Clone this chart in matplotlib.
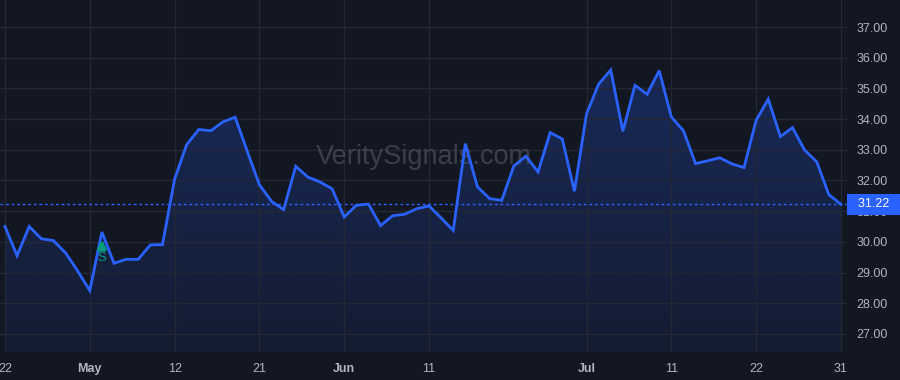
import matplotlib
matplotlib.use('Agg')
import matplotlib.pyplot as plt
import matplotlib.transforms as mtransforms
from matplotlib.patches import Polygon
import numpy as np

# closing prices, one per trading day (Apr 22 -> Jul 31)
prices = [30.50, 29.55, 30.50, 30.10, 30.04, 29.64, 29.05, 28.41, 30.32, 29.30,
          29.43, 29.43, 29.90, 29.91, 32.04, 33.17, 33.66, 33.62, 33.91, 34.06,
          32.95, 31.86, 31.32, 31.05, 32.46, 32.11, 31.95, 31.73, 30.81, 31.19,
          31.23, 30.53, 30.85, 30.90, 31.08, 31.17, 30.78, 30.37, 33.20, 31.79,
          31.41, 31.35, 32.47, 32.79, 32.28, 33.56, 33.35, 31.65, 34.17, 35.14,
          35.60, 33.60, 35.10, 34.81, 35.58, 34.07, 33.62, 32.55, 32.64, 32.74,
          32.54, 32.42, 33.96, 34.65, 33.43, 33.72, 32.99, 32.61, 31.54, 31.22]

tick_idx = [0, 7, 14, 21, 28, 35, 48, 55, 62, 69]
tick_labels = ['22', 'May', '12', '21', 'Jun', '11', 'Jul', '11', '22', '31']
month_labels = ['May', 'Jun', 'Jul']
y_ticks = [27, 28, 29, 30, 31, 32, 33, 34, 35, 36, 37]

signal_idx = 8
signal_text = 'S'
last_price = 31.22
watermark = 'VeritySignals.com'

BG = '#131722'
GRID = '#242835'
TXT = '#b2b5be'
BLUE = '#2962ff'

plt.rcParams['font.family'] = ['Liberation Sans', 'DejaVu Sans']

fig = plt.figure(figsize=(9, 3.8), dpi=100, facecolor=BG)
ax = fig.add_axes([0, 1 - 352 / 380, 847 / 900, 352 / 380])
ax.set_facecolor(BG)

x = np.arange(len(prices))
y = np.array(prices)
ymin, ymax = 26.41, 37.88
ax.set_xlim(-0.41, 69.5)
ax.set_ylim(ymin, ymax)

# gradient area under the line
grad = np.linspace(0.30, 0.07, 256).reshape(-1, 1)
rgba = np.zeros((256, 1, 4))
rgba[..., 0] = 41 / 255
rgba[..., 1] = 98 / 255
rgba[..., 2] = 1.0
rgba[..., 3] = grad
im = ax.imshow(rgba, extent=[x[0], x[-1], ymin, ymax], aspect='auto',
               origin='upper', zorder=1, interpolation='bilinear')
verts = [(x[0], ymin)] + list(zip(x, y)) + [(x[-1], ymin)]
poly = Polygon(verts, closed=True, facecolor='none', edgecolor='none')
ax.add_patch(poly)
im.set_clip_path(poly)

ax.plot(x, y, color=BLUE, lw=2, zorder=3, solid_joinstyle='miter')

# last price line
ax.axhline(last_price, color=BLUE, lw=1, ls=(0, (2, 2)), zorder=2)

# grid
ax.set_xticks(tick_idx)
ax.set_yticks(y_ticks)
ax.grid(True, color=GRID, lw=1, zorder=0)
for s in ax.spines.values():
    s.set_visible(False)

ax.set_xticklabels(tick_labels)
for lab in ax.get_xticklabels():
    if lab.get_text() in month_labels:
        lab.set_fontweight('bold')
ax.tick_params(axis='x', length=0, pad=8, colors=TXT, labelsize=9)
ax.yaxis.tick_right()
ax.set_yticklabels([f'{v:.2f}' for v in y_ticks])
ax.tick_params(axis='y', length=0, pad=7, colors=TXT, labelsize=9)

# watermark
ax.text(0.5, 0.555, watermark, transform=ax.transAxes, ha='center', va='center',
        fontsize=19.5, color='#5d606b', alpha=0.55, zorder=2)

# signal marker
ax.annotate('', xy=(signal_idx, prices[signal_idx] - 0.15),
            xytext=(signal_idx, prices[signal_idx] - 0.6),
            arrowprops=dict(arrowstyle='-|>', color='#089981', lw=3,
                            mutation_scale=10), zorder=4)
ax.text(signal_idx, prices[signal_idx] - 0.85, signal_text, ha='center', va='center',
        color='#089981', fontsize=9.5, zorder=4)

# last price tag on the scale
trans = mtransforms.blended_transform_factory(ax.transAxes, ax.transData)
trans = trans + mtransforms.ScaledTranslation(4 / 100, 0, fig.dpi_scale_trans)
ax.text(1.0, last_price, '  31.22  ', transform=trans, ha='left', va='center',
        color='white', fontsize=9, zorder=5, clip_on=False,
        bbox=dict(boxstyle='square,pad=0.35', facecolor=BLUE, edgecolor='none'))

fig.savefig('out.png', dpi=100, facecolor=BG)
